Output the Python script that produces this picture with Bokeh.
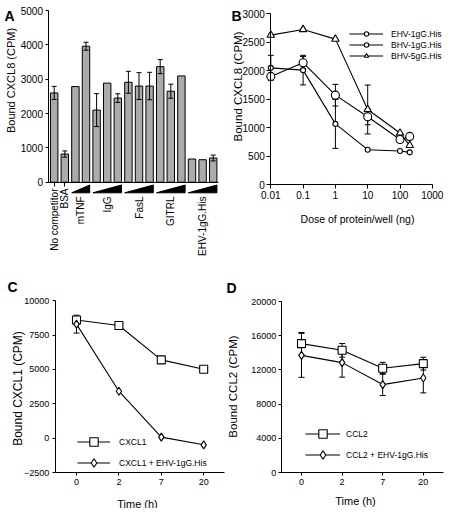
import numpy as np
from bokeh.plotting import figure
from bokeh.models import (Range1d, ColumnDataSource, Whisker, TeeHead, Legend, LegendItem,
                          FixedTicker, CustomJSTickFormatter)
from bokeh.layouts import column, row
from bokeh.embed import file_html
from bokeh.resources import INLINE
from bokeh.core.properties import value

FONT = "Liberation Sans"

# ---------------- data ----------------
# Panel A
a_groups = ["No competitor", "BSA", "mTNF", "IgG", "FasL", "GITRL", "EHV-1gG.His"]
a_group_sizes = [1, 1, 2, 3, 3, 3, 3]
a_values = [2600, 820, 2785, 3960, 2100, 2885, 2450, 2910, 2800, 2800, 3365, 2650, 3095, 675, 655, 705]
a_errors = [190, 90, 0, 115, 480, 0, 125, 320, 390, 400, 205, 205, 0, 0, 0, 85]
a_yticks = [0, 1000, 2000, 3000, 4000, 5000]
a_ylabel = "Bound CXCL8 (CPM)"

# Panel B
b_doses = [0.01, 0.1, 1, 10, 100, 200]
b_names = ["EHV-1gG.His", "BHV-1gG.His", "BHV-5gG.His"]
b_ehv1 = [2050, 2010, 1065, 612, 588, 565]
b_ehv1_err = [220, 260, 430, 0, 0, 0]
b_bhv1 = [1900, 2140, 1570, 1190, 790, 845]
b_bhv1_err = [0, 110, 190, 140, 0, 0]
b_bhv5 = [2625, 2725, 2555, 1318, 905, 688]
b_bhv5_err = [0, 0, 0, 430, 0, 0]
b_xticks = [0.01, 0.1, 1, 10, 100, 1000]
b_yticks = [0, 500, 1000, 1500, 2000, 2500, 3000]
b_ylabel = "Bound CXCL8 (CPM)"
b_xlabel = "Dose of protein/well (ng)"

# Panel C
c_times = ["0", "2", "7", "20"]
c_names = ["CXCL1", "CXCL1 + EHV-1gG.His"]
c_cxcl1 = [8600, 8200, 5700, 5020]
c_cxcl1_err = [250, 0, 0, 0]
c_cxcl1_ehv = [8300, 3420, 75, -485]
c_cxcl1_ehv_err = [650, 0, 0, 0]
c_yticks = [-2500, 0, 2500, 5000, 7500, 10000]
c_ylabel = "Bound CXCL1 (CPM)"

# Panel D
d_times = ["0", "2", "7", "20"]
d_names = ["CCL2", "CCL2 + EHV-1gG.His"]
d_ccl2 = [15070, 14290, 12190, 12730]
d_ccl2_err = [1300, 800, 700, 750]
d_ccl2_ehv = [13700, 12850, 10280, 11060]
d_ccl2_ehv_err = [2570, 1700, 1280, 1750]
d_yticks = [0, 4000, 8000, 12000, 16000, 20000]
d_ylabel = "Bound CCL2 (CPM)"

x_label_time = "Time (h)"


# ---------------- helpers ----------------
class PageMap:
    """Maps the page pixel layout of a panel to data coordinates.
    page_x = ax + bx * X   (X = log10(x) for log axes),  page_y = ay - by * y"""

    def __init__(self, ox, oy, W, H, ax, bx, ay, by, logx=False):
        self.ox, self.oy, self.W, self.H = ox, oy, W, H
        self.ax, self.bx, self.ay, self.by, self.logx = ax, bx, ay, by, logx

    def x(self, px):
        X = (px - self.ax) / self.bx
        return float(10 ** X) if self.logx else X

    def y(self, py):
        return (self.ay - py) / self.by

    def x_range(self):
        return Range1d(self.x(self.ox), self.x(self.ox + self.W))

    def y_range(self):
        return Range1d(self.y(self.oy + self.H), self.y(self.oy))


def make_fig(m, **kw):
    p = figure(width=m.W, height=m.H, output_backend="svg", toolbar_location=None,
               x_range=m.x_range(), y_range=m.y_range(), min_border=0,
               min_border_left=0, min_border_right=0, min_border_top=0, min_border_bottom=0,
               background_fill_color="white", border_fill_color="white",
               outline_line_color=None, **kw)
    p.xgrid.visible = False
    p.ygrid.visible = False
    return p


def style_axis(ax, size, tick_out=3, standoff=2):
    ax.axis_line_color = "black"
    ax.axis_line_width = 1
    ax.major_tick_line_color = "black"
    ax.major_tick_out = tick_out
    ax.major_tick_in = 0
    ax.minor_tick_out = 0
    ax.minor_tick_in = 0
    ax.major_label_text_font = FONT
    ax.major_label_text_font_size = size
    ax.major_label_text_color = "black"
    ax.major_label_standoff = standoff


def put_text(p, m, px, py, text, size, bold=False, angle=0.0, align="center", baseline="middle"):
    p.text(x=[m.x(px)], y=[m.y(py)], text=[text], angle=angle, text_align=align,
           text_baseline=baseline, text_font=value(FONT), text_font_size=size,
           text_font_style="bold" if bold else "normal", text_color="black")


def add_whiskers(p, xs, vals, errs, level="underlay", head=6):
    keep = [i for i, e in enumerate(errs) if e > 0]
    src = ColumnDataSource(dict(x=[xs[i] for i in keep],
                                upper=[vals[i] + errs[i] for i in keep],
                                lower=[vals[i] - errs[i] for i in keep]))
    w = Whisker(base="x", upper="upper", lower="lower", source=src, level=level,
                line_color="black", line_width=1,
                upper_head=TeeHead(size=head, line_color="black", line_width=1),
                lower_head=TeeHead(size=head, line_color="black", line_width=1))
    p.add_layout(w)


def add_legend(p, items, loc, gw, gh, spacing, standoff, size, lh, lw):
    lg = Legend(items=items, location=loc, glyph_width=gw, glyph_height=gh, spacing=spacing,
                label_standoff=standoff, padding=0, margin=0, label_height=lh, label_width=lw,
                label_text_font=FONT, label_text_font_size=size, label_text_color="black",
                border_line_color=None, background_fill_alpha=0)
    p.add_layout(lg)


# ---------------- Panel A ----------------
mA = PageMap(0, 0, 230, 262, ax=53.7, bx=10.6, ay=181.7, by=0.03434)
pA = make_fig(mA)
a_n = len(a_values)
idx = list(range(a_n))
a_axis_x = mA.x(47.5)
pA.vbar(x=idx, top=a_values, bottom=0, width=0.7, fill_color="#ababab",
        line_color="black", line_width=1)
add_whiskers(pA, idx, a_values, a_errors, level="annotation", head=5)

ya = pA.yaxis[0]
style_axis(ya, "10px", tick_out=3, standoff=2)
ya.fixed_location = a_axis_x
ya.bounds = (a_yticks[0], a_yticks[-1])
ya.ticker = FixedTicker(ticks=a_yticks)

tick_x, single_t, grp_x, grp_t = [], [], [], []
wedge_xs, wedge_ys = [], []
start = 0
for name, n in zip(a_groups, a_group_sizes):
    members = idx[start:start + n]
    if n == 1:
        tick_x.append(members[0])
        single_t.append(name)
    else:
        x0, x1 = members[0] - 0.35, members[-1] + 0.35
        wedge_xs.append([x0, x1, x1])
        wedge_ys.append([mA.y(192.3), mA.y(192.3), mA.y(184.5)])
        grp_x.append(float(np.mean(members)))
        grp_t.append(name)
    start += n

xa = pA.xaxis[0]
style_axis(xa, "10px", tick_out=4, standoff=2)
xa.fixed_location = 0
xa.bounds = (a_axis_x, a_n - 0.5)
xa.ticker = FixedTicker(ticks=tick_x)
xa.formatter = CustomJSTickFormatter(code="return '';")

pA.patches(xs=wedge_xs, ys=wedge_ys, fill_color="black", line_color="black")
pA.text(x=tick_x, y=[mA.y(188)] * len(tick_x), text=single_t, angle=np.pi / 2,
        text_align="right", text_baseline="middle", text_font=value(FONT),
        text_font_size="10px", text_color="black")
pA.text(x=grp_x, y=[mA.y(196)] * len(grp_x), text=grp_t, angle=np.pi / 2,
        text_align="right", text_baseline="middle", text_font=value(FONT),
        text_font_size="10px", text_color="black")
put_text(pA, mA, 10, 80, a_ylabel, "11px", angle=np.pi / 2)
put_text(pA, mA, 4, 15, "A", "14px", bold=True, align="left", baseline="alphabetic")

# ---------------- Panel B ----------------
mB = PageMap(230, 0, 214, 262, ax=270.3 + 2 * 32.3, bx=32.3, ay=184, by=0.0569, logx=True)
pB = make_fig(mB, x_axis_type="log")
xb, yb = pB.xaxis[0], pB.yaxis[0]
style_axis(xb, "10px", tick_out=4, standoff=2)
style_axis(yb, "10px", tick_out=4, standoff=2)
xb.fixed_location = b_yticks[0]
xb.bounds = (b_xticks[0], b_xticks[-1])
xb.ticker = FixedTicker(ticks=b_xticks)
xb.formatter = CustomJSTickFormatter(code="return tick.toString();")
yb.fixed_location = b_xticks[0]
yb.bounds = (b_yticks[0], b_yticks[-1])
yb.ticker = FixedTicker(ticks=b_yticks)

b_items = []
for name, vals, errs, mk, sz in zip(b_names, [b_ehv1, b_bhv1, b_bhv5],
                                    [b_ehv1_err, b_bhv1_err, b_bhv5_err],
                                    ["circle", "circle", "triangle"], [5, 8, 7.5]):
    add_whiskers(pB, b_doses, vals, errs, level="underlay", head=6)
    lr = pB.line(b_doses, vals, line_color="black", line_width=1.1)
    sr = pB.scatter(b_doses, vals, marker=mk, size=sz, fill_color="white",
                    line_color="black", line_width=1.1)
    b_items.append(LegendItem(label=name, renderers=[lr, sr]))
add_legend(pB, b_items, (119, 201), 34, 11, 0, 8, "8.5px", 11, 44)
put_text(pB, mB, 237, 86, b_ylabel, "11.5px", angle=np.pi / 2)
put_text(pB, mB, 357, 218, b_xlabel, "10.5px")
put_text(pB, mB, 231, 15, "B", "14px", bold=True, align="left", baseline="alphabetic")

# ---------------- Panel C ----------------
mC = PageMap(0, 262, 225, 246, ax=76, bx=42.4, ay=437.66, by=0.013736)
pC = make_fig(mC)
c_x = list(range(len(c_times)))
xc, yc = pC.xaxis[0], pC.yaxis[0]
style_axis(xc, "9px", tick_out=3, standoff=3)
style_axis(yc, "9px", tick_out=3, standoff=3)
xc.fixed_location = c_yticks[0]
xc.bounds = (-0.5, len(c_times) - 0.5)
xc.ticker = FixedTicker(ticks=c_x)
xc.formatter = CustomJSTickFormatter(args=dict(labels=c_times),
                                     code="return labels[Math.round(tick)];")
yc.fixed_location = -0.5
yc.bounds = (c_yticks[0], c_yticks[-1])
yc.ticker = FixedTicker(ticks=c_yticks)

c_items = []
for name, vals, errs, mk, sz in zip(c_names, [c_cxcl1, c_cxcl1_ehv], [c_cxcl1_err, c_cxcl1_ehv_err],
                                    ["square", "diamond"], [8, 8]):
    add_whiskers(pC, c_x, vals, errs, level="underlay", head=6)
    lr = pC.line(c_x, vals, line_color="black", line_width=1.1)
    sr = pC.scatter(c_x, vals, marker=mk, size=sz, fill_color="white",
                    line_color="black", line_width=1.1)
    c_items.append(LegendItem(label=name, renderers=[lr, sr]))
add_legend(pC, c_items, (77, 35), 33, 21, 0, 9, "8.5px", 21, 90)
put_text(pC, mC, 17, 388, c_ylabel, "12px", angle=np.pi / 2)
put_text(pC, mC, 137, 503, x_label_time, "11px")
put_text(pC, mC, 7, 286, "C", "14px", bold=True, align="left", baseline="alphabetic")

# ---------------- Panel D ----------------
mD = PageMap(225, 262, 219, 246, ax=301, bx=40.6, ay=472, by=0.00855)
pD = make_fig(mD)
d_x = list(range(len(d_times)))
xd, yd = pD.xaxis[0], pD.yaxis[0]
style_axis(xd, "9px", tick_out=3, standoff=3)
style_axis(yd, "9px", tick_out=3, standoff=2)
xd.fixed_location = d_yticks[0]
xd.bounds = (-0.5, len(d_times) - 0.5)
xd.ticker = FixedTicker(ticks=d_x)
xd.formatter = CustomJSTickFormatter(args=dict(labels=d_times),
                                     code="return labels[Math.round(tick)];")
yd.fixed_location = -0.5
yd.bounds = (d_yticks[0], d_yticks[-1])
yd.ticker = FixedTicker(ticks=d_yticks)

d_items = []
for name, vals, errs, mk, sz in zip(d_names, [d_ccl2, d_ccl2_ehv], [d_ccl2_err, d_ccl2_ehv_err],
                                    ["square", "diamond"], [8, 8]):
    add_whiskers(pD, d_x, vals, errs, level="underlay", head=6)
    lr = pD.line(d_x, vals, line_color="black", line_width=1.1)
    sr = pD.scatter(d_x, vals, marker=mk, size=sz, fill_color="white",
                    line_color="black", line_width=1.1)
    d_items.append(LegendItem(label=name, renderers=[lr, sr]))
add_legend(pD, d_items, (80, 43), 35, 21, 0, 6, "8.5px", 21, 90)
put_text(pD, mD, 232, 386, d_ylabel, "11.5px", angle=np.pi / 2)
put_text(pD, mD, 355, 500, x_label_time, "11px")
put_text(pD, mD, 226, 287, "D", "14px", bold=True, align="left", baseline="alphabetic")

layout = column(row(pA, pB), row(pC, pD))
open("out.html", "w").write(file_html(layout, INLINE))
